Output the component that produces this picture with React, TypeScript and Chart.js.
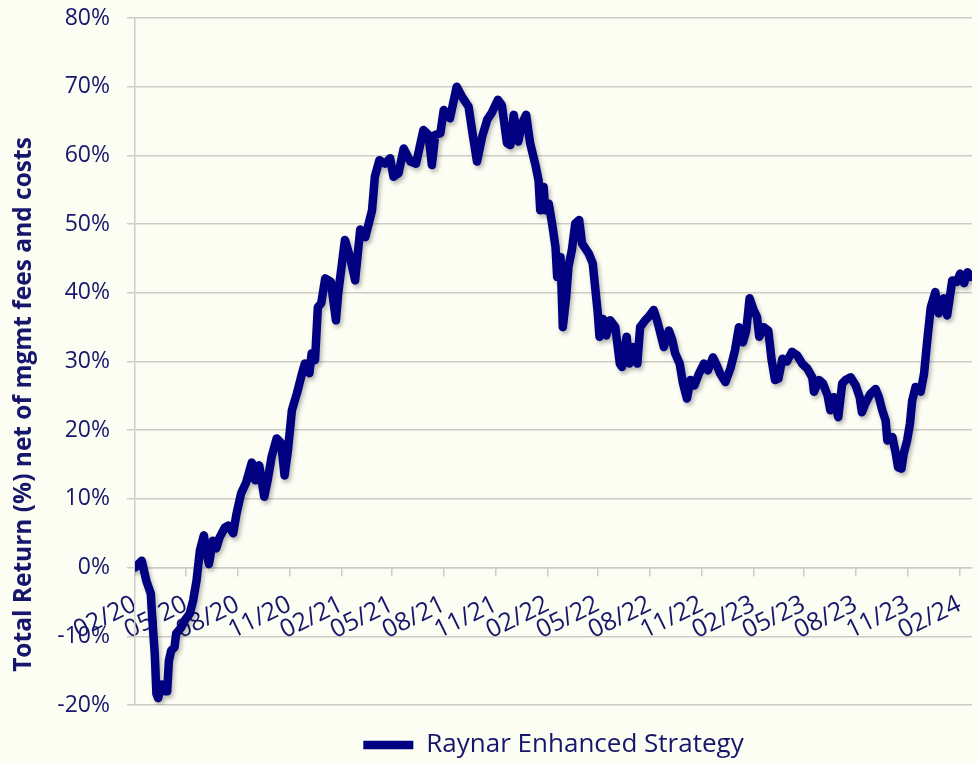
import React, { useEffect, useRef } from "react";
import { Chart, registerables } from "chart.js";

Chart.register(...registerables);

// ---------- data ----------
const seriesName = "Raynar Enhanced Strategy";
const yAxisTitle = "Total Return (%) net of mgmt fees and costs";

const axisStart = "2020-02-14";
const axisEnd = "2024-03-07";

const tickLabels = [
  "02/20", "05/20", "08/20", "11/20",
  "02/21", "05/21", "08/21", "11/21",
  "02/22", "05/22", "08/22", "11/22",
  "02/23", "05/23", "08/23", "11/23",
  "02/24",
];

const dates = [
  "2020-02-14", "2020-02-26", "2020-03-05", "2020-03-13", "2020-03-15", "2020-03-20", "2020-03-23", "2020-03-26",
  "2020-04-01", "2020-04-07", "2020-04-11", "2020-04-14", "2020-04-18", "2020-04-24", "2020-04-27", "2020-05-06",
  "2020-05-12", "2020-05-21", "2020-05-27", "2020-06-02", "2020-06-08", "2020-06-15", "2020-06-19", "2020-06-24",
  "2020-07-01", "2020-07-07", "2020-07-13", "2020-07-22", "2020-07-28", "2020-08-06", "2020-08-12", "2020-08-20",
  "2020-08-29", "2020-09-08", "2020-09-14", "2020-09-21", "2020-09-30", "2020-10-06", "2020-10-13", "2020-10-22",
  "2020-10-30", "2020-11-05", "2020-11-11", "2020-11-18", "2020-11-27", "2020-12-06", "2020-12-11", "2020-12-19",
  "2020-12-23", "2020-12-29", "2021-01-03", "2021-01-09", "2021-01-16", "2021-01-26", "2021-02-04", "2021-02-08",
  "2021-02-20", "2021-03-01", "2021-03-10", "2021-03-19", "2021-03-28", "2021-04-09", "2021-04-14", "2021-04-22",
  "2021-05-02", "2021-05-11", "2021-05-17", "2021-05-26", "2021-06-04", "2021-06-16", "2021-06-26", "2021-07-09",
  "2021-07-18", "2021-07-24", "2021-07-30", "2021-08-08", "2021-08-14", "2021-08-25", "2021-09-06", "2021-09-15",
  "2021-09-27", "2021-10-05", "2021-10-12", "2021-10-21", "2021-10-30", "2021-11-07", "2021-11-18", "2021-11-25",
  "2021-12-04", "2021-12-10", "2021-12-16", "2021-12-24", "2021-12-31", "2022-01-07", "2022-01-14", "2022-01-23",
  "2022-01-29", "2022-02-01", "2022-02-07", "2022-02-10", "2022-02-16", "2022-02-22", "2022-02-28", "2022-03-03",
  "2022-03-09", "2022-03-13", "2022-03-19", "2022-03-23", "2022-03-29", "2022-04-04", "2022-04-11", "2022-04-16",
  "2022-04-28", "2022-05-05", "2022-05-14", "2022-05-17", "2022-05-23", "2022-05-29", "2022-06-05", "2022-06-14",
  "2022-06-22", "2022-06-26", "2022-07-04", "2022-07-09", "2022-07-16", "2022-07-23", "2022-07-28", "2022-08-06",
  "2022-08-12", "2022-08-21", "2022-08-27", "2022-09-02", "2022-09-08", "2022-09-17", "2022-09-23", "2022-09-28",
  "2022-10-06", "2022-10-12", "2022-10-19", "2022-10-25", "2022-11-01", "2022-11-09", "2022-11-18", "2022-11-25",
  "2022-12-04", "2022-12-11", "2022-12-17", "2022-12-26", "2023-01-04", "2023-01-12", "2023-01-19", "2023-01-26",
  "2023-02-01", "2023-02-07", "2023-02-14", "2023-02-20", "2023-02-24", "2023-03-04", "2023-03-12", "2023-03-18",
  "2023-03-24", "2023-03-30", "2023-04-06", "2023-04-14", "2023-04-23", "2023-05-02", "2023-05-11", "2023-05-20",
  "2023-05-29", "2023-06-01", "2023-06-10", "2023-06-17", "2023-06-25", "2023-06-30", "2023-07-06", "2023-07-14",
  "2023-07-21", "2023-07-27", "2023-08-05", "2023-08-14", "2023-08-21", "2023-08-25", "2023-08-31", "2023-09-09",
  "2023-09-18", "2023-09-24", "2023-09-30", "2023-10-06", "2023-10-09", "2023-10-18", "2023-10-24", "2023-10-28",
  "2023-11-03", "2023-11-07", "2023-11-13", "2023-11-18", "2023-11-22", "2023-11-28", "2023-12-07", "2023-12-13",
  "2023-12-17", "2023-12-20", "2023-12-25", "2024-01-02", "2024-01-08", "2024-01-17", "2024-01-23", "2024-02-01",
  "2024-02-09", "2024-02-15", "2024-02-22", "2024-02-28", "2024-03-05",
];

const returns = [
  0.0, 1.0, -1.9, -3.8, -6.7, -12.5, -18.4, -19.0,
  -17.0, -18.0, -18.0, -13.6, -12.1, -11.6, -9.6, -8.7,
  -7.7, -6.7, -4.8, -1.9, 2.5, 4.7, 2.5, 0.5,
  3.9, 2.8, 4.4, 5.8, 6.1, 5.0, 7.9, 10.8,
  12.4, 15.3, 12.7, 14.9, 10.3, 12.7, 16.1, 18.8,
  18.1, 13.4, 17.1, 22.9, 25.4, 28.3, 29.7, 28.3,
  31.2, 30.2, 37.9, 38.5, 42.1, 41.6, 36.0, 39.9,
  47.7, 45.2, 41.8, 49.2, 48.1, 52.0, 56.9, 59.3,
  58.8, 59.6, 56.9, 57.4, 61.0, 59.1, 58.8, 63.7,
  63.0, 58.6, 63.0, 63.2, 66.6, 65.4, 70.0, 68.6,
  67.1, 62.7, 59.1, 62.7, 65.2, 66.2, 68.1, 67.3,
  61.8, 61.5, 65.9, 62.0, 64.7, 65.9, 61.8, 58.8,
  56.4, 52.0, 55.4, 52.0, 53.0, 50.1, 46.7, 42.3,
  45.2, 35.0, 39.4, 43.8, 46.2, 50.1, 50.6, 47.2,
  45.7, 44.3, 37.0, 33.6, 36.2, 33.8, 36.0, 35.0,
  29.7, 29.2, 33.6, 29.7, 32.1, 29.7, 35.0, 36.0,
  36.5, 37.5, 36.0, 34.1, 32.1, 34.5, 33.1, 31.2,
  29.7, 26.8, 24.6, 27.3, 26.5, 28.2, 29.7, 28.7,
  30.6, 29.4, 28.2, 27.0, 29.0, 31.6, 35.0, 32.8,
  34.5, 39.2, 37.5, 36.5, 33.6, 35.0, 34.5, 30.2,
  27.3, 27.5, 30.4, 30.0, 31.4, 30.9, 29.7, 29.0,
  27.7, 25.6, 27.3, 26.8, 25.1, 22.9, 24.8, 21.9,
  26.8, 27.3, 27.7, 26.5, 24.8, 22.6, 23.9, 25.3,
  26.0, 24.8, 22.9, 21.4, 18.5, 19.0, 16.6, 14.6,
  14.4, 16.6, 18.5, 20.9, 24.3, 26.3, 25.6, 28.2,
  31.6, 34.1, 37.9, 40.1, 37.0, 39.2, 36.7, 41.8,
  41.6, 42.8, 41.4, 43.0, 42.3,
];

const yMin = -20;
const yMax = 80;
const yStep = 10;

// ---------- style ----------
const FONT = "'Open Sans', 'Noto Sans', 'DejaVu Sans', sans-serif";
const LINE_COLOR = "#000080";
const TEXT_COLOR = "#16166c";
const GRID_COLOR = "#cdcdc6";
const BG_COLOR = "#fcfdf3";

function toUTC(s: string): number {
  const [y, m, d] = s.split("-").map(Number);
  return Date.UTC(y, m - 1, d);
}
const startMs = toUTC(axisStart);
function dayIndex(s: string): number {
  return Math.round((toUTC(s) - startMs) / 86400000);
}
function labelToDate(lbl: string): string {
  const [mm, yy] = lbl.split("/");
  return `20${yy}-${mm}-14`;
}

export default function App() {
  const ref = useRef<HTMLCanvasElement | null>(null);

  useEffect(() => {
    const canvas = ref.current;
    if (!canvas) return;
    Chart.defaults.font.family = FONT;

    const points = dates.map((d, i) => ({ x: dayIndex(d), y: returns[i] }));
    const tickDays = tickLabels.map((l) => dayIndex(labelToDate(l)));

    const bgPlugin = {
      id: "bg",
      beforeDraw(chart: any) {
        const { ctx, width, height } = chart;
        ctx.save();
        ctx.fillStyle = BG_COLOR;
        ctx.fillRect(0, 0, width, height);
        ctx.restore();
      },
    };

    const shadowPlugin = {
      id: "lineShadow",
      beforeDatasetDraw(chart: any) {
        const ctx = chart.ctx;
        ctx.save();
        ctx.shadowColor = "rgba(0,0,0,0.28)";
        ctx.shadowBlur = 4;
        ctx.shadowOffsetX = 2;
        ctx.shadowOffsetY = 3;
      },
      afterDatasetDraw(chart: any) {
        chart.ctx.restore();
      },
    };

    const titlePlugin = {
      id: "yTitle",
      afterDraw(chart: any) {
        const { ctx, chartArea } = chart;
        ctx.save();
        ctx.translate(chartArea.left - 111, (chartArea.top + chartArea.bottom) / 2 + 43);
        ctx.rotate(-Math.PI / 2);
        ctx.font = `bold 24.5px ${FONT}`;
        ctx.fillStyle = TEXT_COLOR;
        ctx.textAlign = "center";
        ctx.textBaseline = "middle";
        ctx.fillText(yAxisTitle, 0, 0);
        ctx.restore();
      },
    };

    const chart = new Chart(canvas, {
      type: "line",
      data: {
        datasets: [
          {
            label: seriesName,
            data: points,
            borderColor: LINE_COLOR,
            backgroundColor: LINE_COLOR,
            borderWidth: 8.5,
            borderCapStyle: "round",
            borderJoinStyle: "round",
            pointRadius: 0,
            pointHoverRadius: 0,
            tension: 0,
            fill: false,
          },
        ],
      },
      options: {
        animation: false,
        responsive: false,
        maintainAspectRatio: false,
        devicePixelRatio: 1,
        layout: { padding: { top: 18, left: 0, right: 7, bottom: -6 } },
        scales: {
          x: {
            type: "linear",
            position: { y: 0 } as any,
            min: 0,
            max: dayIndex(axisEnd),
            afterBuildTicks: (s: any) => {
              s.ticks = tickDays.map((v) => ({ value: v }));
            },
            afterFit: (s: any) => {
              s.height = 0;
              s.paddingLeft = 0;
              s.paddingRight = 0;
              s.paddingTop = 0;
              s.paddingBottom = 0;
            },
            grid: {
              display: true,
              drawOnChartArea: false,
              drawTicks: true,
              tickLength: 8,
              color: GRID_COLOR,
              lineWidth: 1.5,
            },
            border: { display: true, color: GRID_COLOR, width: 1.5 },
            ticks: {
              autoSkip: false,
              minRotation: 26,
              maxRotation: 26,
              padding: 14,
              color: TEXT_COLOR,
              font: { family: FONT, size: 25 },
              callback: (_v: any, i: number) => tickLabels[i],
            },
          },
          y: {
            type: "linear",
            min: yMin,
            max: yMax,
            afterFit: (s: any) => {
              s.width = 135;
              s.paddingTop = 0;
              s.paddingBottom = 0;
            },
            grid: {
              color: GRID_COLOR,
              lineWidth: 1.5,
              drawTicks: true,
              tickLength: 8,
            },
            border: { display: true, color: GRID_COLOR, width: 1.5 },
            ticks: {
              stepSize: yStep,
              padding: 17,
              color: TEXT_COLOR,
              font: { family: FONT, size: 23 },
              callback: (v: any) => `${v}%`,
            },
          },
        },
        plugins: {
          legend: {
            display: true,
            position: "bottom",
            fullSize: false,
            labels: {
              usePointStyle: true,
              pointStyle: "line",
              pointStyleWidth: 50,
              padding: 27,
              color: TEXT_COLOR,
              font: { family: FONT, size: 26 },
            },
          },
          tooltip: { enabled: false },
        },
      } as any,
      plugins: [bgPlugin, shadowPlugin, titlePlugin],
    });

    return () => chart.destroy();
  }, []);

  return (
    <>
      <style>{`html,body{margin:0;padding:0;background:${BG_COLOR};}`}</style>
      <canvas ref={ref} width={979} height={762} style={{ display: "block", width: 979, height: 762 }} />
    </>
  );
}
